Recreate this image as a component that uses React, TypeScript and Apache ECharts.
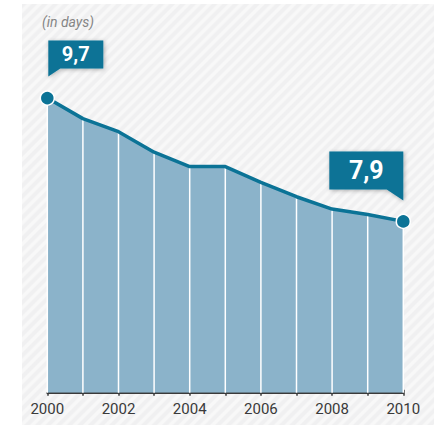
import React, { useEffect, useRef } from "react";
import * as echarts from "echarts";

const years = ["2000", "2001", "2002", "2003", "2004", "2005", "2006", "2007", "2008", "2009", "2010"];
const days = [9.7, 9.4, 9.21, 8.91, 8.7, 8.7, 8.47, 8.26, 8.08, 8.0, 7.9];
const unitNote = "(in days)";

const TEAL = "#0b7396";
const FILL = "#8bb3ca";
const FONT = "Roboto, 'DejaVu Sans', sans-serif";

const fmt = (v: number) => String(v).replace(".", ",");

export default function App() {
  const ref = useRef<HTMLDivElement>(null);

  useEffect(() => {
    if (!ref.current) return;
    const chart = echarts.init(ref.current, null, { renderer: "svg" });
    const last = years.length - 1;

    const lineData = days.map((v, i) => ({
      value: v,
      symbol: i === 0 || i === last ? "circle" : "none",
    }));

    chart.setOption({
      animation: false,
      title: {
        text: unitNote,
        left: 37,
        top: 10,
        textStyle: {
          fontStyle: "italic",
          fontWeight: "normal",
          fontSize: 14,
          color: "#858585",
          fontFamily: FONT,
        },
      },
      grid: { left: 47.3, right: 30.7, top: 9, bottom: 33.3 },
      xAxis: [
        {
          type: "category",
          data: years,
          boundaryGap: false,
          axisLine: { show: true, lineStyle: { color: "#3a3a3a", width: 2 } },
          axisTick: { show: true, interval: 0, length: 3, lineStyle: { color: "#3a3a3a", width: 1.5 } },
          axisLabel: {
            interval: 1,
            color: "#3a3a3a",
            fontSize: 15,
            fontFamily: FONT,
            margin: 9,
          },
          splitLine: { show: false },
        },
        {
          type: "category",
          data: years,
          boundaryGap: false,
          position: "bottom",
          axisLine: { show: false },
          axisTick: { show: true, inside: true, interval: 0, length: 3, lineStyle: { color: "#3a3a3a", width: 1.5 } },
          axisLabel: { show: false },
          splitLine: { show: false },
        },
      ],
      yAxis: {
        type: "value",
        min: 5.4,
        max: 11,
        show: false,
        splitLine: { show: false },
      },
      series: [
        {
          type: "line",
          data: days,
          z: 1,
          symbol: "none",
          lineStyle: { width: 0, opacity: 0 },
          areaStyle: { color: FILL, opacity: 1, origin: "start" },
          silent: true,
        },
        {
          type: "bar",
          data: days,
          z: 2,
          barWidth: 1.5,
          itemStyle: { color: "#ffffff" },
          silent: true,
        },
        {
          type: "line",
          data: lineData,
          z: 3,
          symbolSize: 14,
          itemStyle: { color: TEAL, borderColor: "#ffffff", borderWidth: 1.5 },
          lineStyle: { color: TEAL, width: 3.5 },
          markPoint: {
            z: 5,
            itemStyle: {
              color: TEAL,
              shadowBlur: 4,
              shadowColor: "rgba(0,0,0,0.3)",
              shadowOffsetX: 1,
              shadowOffsetY: 1,
            },
            label: {
              show: true,
              position: "inside",
              color: "#ffffff",
              fontWeight: "bold",
              fontFamily: FONT,
              formatter: (p: any) => fmt(p.value),
            },
            data: [
              {
                coord: [years[0], days[0]],
                value: days[0],
                symbol: "path://M0,0H55V28H12L0,36Z",
                symbolSize: [55, 36],
                symbolOffset: [28.5, -39.6],
                label: { fontSize: 20, offset: [0, -4] },
              },
              {
                coord: [years[last], days[last]],
                value: days[last],
                symbol: "path://M0,0H74V49L57.4,38H0Z",
                symbolSize: [74, 49],
                symbolOffset: [-37, -45.5],
                label: { fontSize: 25, offset: [0, -5.4] },
              },
            ],
          },
        },
      ],
    });

    return () => chart.dispose();
  }, []);

  return (
    <div style={{ position: "absolute", left: 0, top: 0, width: 434, height: 426, background: "#fff" }}>
      <div
        style={{
          position: "absolute",
          left: 22,
          top: 4,
          width: 412,
          height: 421,
          background:
            "repeating-linear-gradient(135deg, #f0f0f1 0px, #f0f0f1 2.5px, #f8f8f8 4px, #f8f8f8 6px, #f0f0f1 7.5px)",
        }}
      />
      <div ref={ref} style={{ position: "absolute", left: 0, top: 0, width: 434, height: 426 }} />
    </div>
  );
}
